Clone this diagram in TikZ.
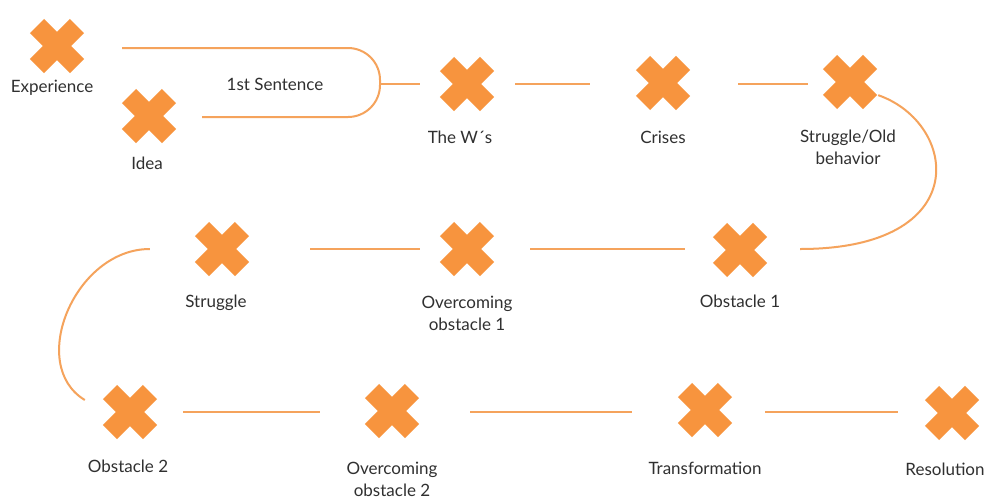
\documentclass[tikz,border=0pt]{standalone}
\usepackage{fontspec}
\setmainfont{Lato}
\usetikzlibrary{positioning,calc}
\definecolor{crossorange}{HTML}{F7943E}
\definecolor{lineorange}{HTML}{F5A35C}
\definecolor{textgray}{HTML}{303030}

\tikzset{
  stage/.style={rectangle,minimum size=56pt,inner sep=0pt,
    path picture={
      \draw[crossorange,line width=20pt]
        ($(path picture bounding box.center)+(-20pt,-20pt)$) -- ($(path picture bounding box.center)+(20pt,20pt)$)
        ($(path picture bounding box.center)+(-20pt,20pt)$) -- ($(path picture bounding box.center)+(20pt,-20pt)$);
    }},
  caption/.style={font=\fontsize{17}{22}\selectfont,text=textgray,align=center,inner sep=1pt},
  link/.style={draw=lineorange,line width=2pt}
}

\begin{document}
\begin{tikzpicture}[x=1pt,y=-1pt]
\useasboundingbox[fill=white] (0,0) rectangle (988,499);

% Row 1
\node[stage] (exp) at (57,46) {};
\node[stage] (idea) at (149,116) {};
\node[stage] (ws) at (467,84) {};
\node[stage] (crises) at (663,83) {};
\node[stage] (oldbeh) at (850,82) {};

% Row 2
\node[stage] (struggle) at (222,249) {};
\node[stage] (overc1) at (467,249) {};
\node[stage] (obst1) at (740,250) {};

% Row 3
\node[stage] (obst2) at (130,412) {};
\node[stage] (overc2) at (392,411) {};
\node[stage] (transf) at (705,410) {};
\node[stage] (resol) at (952,413) {};

% Captions
\node[caption] (exp-t) at (52,88) {Experience};
\node[caption] (idea-t) at (147,163) {Idea};
\node[caption] (sent-t) at (275,84) {1st Sentence};
\node[caption] (ws-t) at (460,137) {The W´s};
\node[caption] (crises-t) at (663,137) {Crises};
\node[caption] (oldbeh-t) at (848,147) {Struggle/Old\\behavior};
\node[caption] (struggle-t) at (216,303) {Struggle};
\node[caption] (overc1-t) at (467,313) {Overcoming\\obstacle 1};
\node[caption] (obst1-t) at (740,301) {Obstacle 1};
\node[caption] (obst2-t) at (128,466) {Obstacle 2};
\node[caption] (overc2-t) at (392,479) {Overcoming\\obstacle 2};
\node[caption] (transf-t) at (705,468) {Transformation};
\node[caption] (resol-t) at (945,469) {Resolution};

% Bracket into the W's
\coordinate (join) at (380,84);
\draw[link,rounded corners=32pt,shorten <=37pt] (exp.east |- 0,48) -| (join);
\draw[link,rounded corners=32pt,shorten <=25pt] (idea.east |- 0,117) -| (join);
\draw[link,shorten >=19pt] (join) -- (ws.west);

% Connections
\draw[link,shorten <=20pt,shorten >=45pt] (ws.east) -- (ws.east -| crises.west);
\draw[link,shorten <=47pt,shorten >=14pt] (crises.east |- ws.east) -- (ws.east -| oldbeh.west);
\draw[link] (oldbeh.-25) .. controls +(80,28) and +(175,0) .. ([xshift=32pt]obst1.east |- overc1.east);

\draw[link,shorten <=27pt,shorten >=35pt] (obst1.west |- overc1.west) -- (overc1.east);
\draw[link,shorten <=19pt,shorten >=60pt] (overc1.west) -- (struggle.east);
\draw[link] ([xshift=-44pt]struggle.west) .. controls +(-75,0) and +(-58,-35) .. ($(obst2.west)+(-17,-12)$);

\draw[link,shorten <=25pt,shorten >=44pt] (obst2.east) -- (obst2.east -| overc2.west);
\draw[link,shorten <=50pt,shorten >=45pt] (obst2.east -| overc2.east) -- (obst2.east -| transf.west);
\draw[link,shorten <=32pt,shorten >=26pt] (obst2.east -| transf.east) -- (obst2.east -| resol.west);

\end{tikzpicture}
\end{document}
